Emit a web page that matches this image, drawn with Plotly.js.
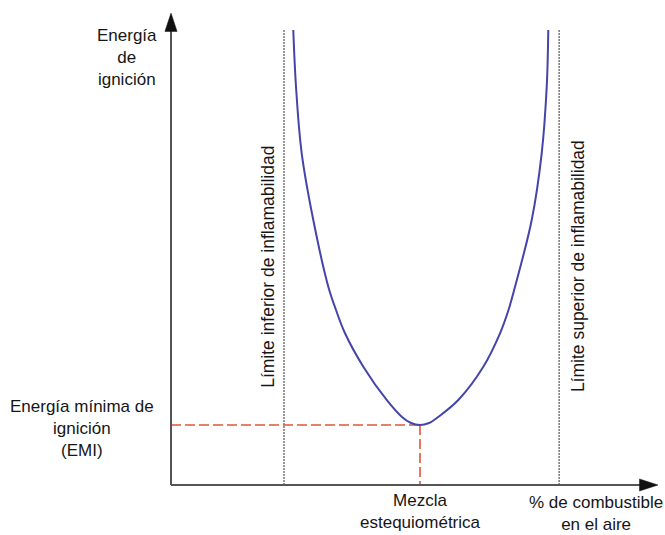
<!DOCTYPE html>
<html>
<head>
<meta charset="utf-8">
<script src="https://cdn.plot.ly/plotly-3.0.1.min.js"></script>
<style>html,body{margin:0;padding:0;background:#fff;}#chart{width:665px;height:535px;}</style>
</head>
<body>
<div id="chart"></div>
<script>
// Curve: ignition energy vs % fuel in air (arbitrary units 0-100)
const curveX = [25.11, 25.67, 26.84, 29.22, 32.30, 33.88, 35.73, 39.49, 44.29, 47.37, 49.28, 51.13, 52.98, 54.93, 58.99, 64.13, 67.56, 69.30, 70.64, 74.07, 76.12, 77.15, 77.47];
const curveY = [96.81, 84.74, 70.57, 56.38, 42.19, 37.23, 32.28, 25.17, 18.09, 14.53, 13.19, 12.77, 13.19, 14.53, 18.09, 25.17, 32.28, 37.23, 42.19, 56.38, 70.57, 84.74, 96.81];
// Flammability limits
const limitX = [23.2, 79.7];
const limitTop = 97.0;
// Stoichiometric mixture / minimum ignition energy
const stoichX = 51.13;
const emiY = 12.77;
// Labels
const yTitle = "Energía<br>de<br>ignición";
const xTitle = "% de combustible<br>en el aire";
const emiLabel = "Energía mínima de<br>ignición<br>(EMI)";
const stoichLabel = "Mezcla<br>estequiométrica";
const limitLabels = ["Límite inferior de inflamabilidad", "Límite superior de inflamabilidad"];

const FONT = "Liberation Sans, Arial, sans-serif";
const TXT = "#161616";
const AX = "#555555";

const traces = [
  {x: [limitX[0], limitX[0]], y: [0, limitTop], mode: "lines", line: {color: "#777", width: 1.5, dash: "2px,1px"}, hoverinfo: "skip"},
  {x: [limitX[1], limitX[1]], y: [0, limitTop], mode: "lines", line: {color: "#777", width: 1.5, dash: "2px,1px"}, hoverinfo: "skip"},
  {x: [0, stoichX], y: [emiY, emiY], mode: "lines", line: {color: "#e2553a", width: 1.6, dash: "10px,4px"}, hoverinfo: "skip"},
  {x: [stoichX, stoichX], y: [emiY, 0], mode: "lines", line: {color: "#e2553a", width: 1.6, dash: "10px,4px"}, hoverinfo: "skip"},
  {x: curveX, y: curveY, mode: "lines", line: {color: "#4444aa", width: 2, shape: "spline", smoothing: 1}, hoverinfo: "skip"}
];

const shapes = [
  {type: "line", xref: "paper", yref: "paper", x0: 0, y0: 0, x1: 0, y1: 0.97, line: {color: AX, width: 2}},
  {type: "line", xref: "paper", yref: "paper", x0: 0, y0: 0, x1: 0.965, y1: 0, line: {color: AX, width: 2}},
  {type: "path", xref: "paper", yref: "paper", path: "M -0.0125 0.965 L 0 1.004 L 0.0125 0.965 Z", fillcolor: "#111", line: {color: "#111", width: 0.5}},
  {type: "path", xref: "paper", yref: "paper", path: "M 0.962 0.0128 L 1.0 0 L 0.962 -0.0128 Z", fillcolor: "#111", line: {color: "#111", width: 0.5}}
];

const ann = (text, x, y, extra) => Object.assign({text, x: x / 100, y: y / 100, xref: "paper", yref: "paper", showarrow: false, xanchor: "center", yanchor: "middle", font: {family: FONT, size: 17, color: TXT}}, extra || {});

const annotations = [
  ann(yTitle, -9.0, 90.9),
  ann(emiLabel, -18.3, 12.1),
  ann(stoichLabel, 51.3, -5.7),
  ann(xTitle, 87.3, -6.0),
  ann(limitLabels[0], 19.9, 46.4, {textangle: -90, font: {family: FONT, size: 17.5, color: TXT}}),
  ann(limitLabels[1], 83.6, 46.6, {textangle: -90, font: {family: FONT, size: 17.5, color: TXT}})
];

const layout = {
  width: 665, height: 535,
  margin: {l: 171, r: 7, t: 15, b: 50},
  paper_bgcolor: "#fff", plot_bgcolor: "#fff",
  showlegend: false,
  xaxis: {range: [0, 100], visible: false, fixedrange: true},
  yaxis: {range: [0, 100], visible: false, fixedrange: true},
  shapes, annotations
};

Plotly.newPlot("chart", traces.map(t => Object.assign({type: "scatter", cliponaxis: false}, t)), layout, {displayModeBar: false, staticPlot: true});
</script>
</body>
</html>
